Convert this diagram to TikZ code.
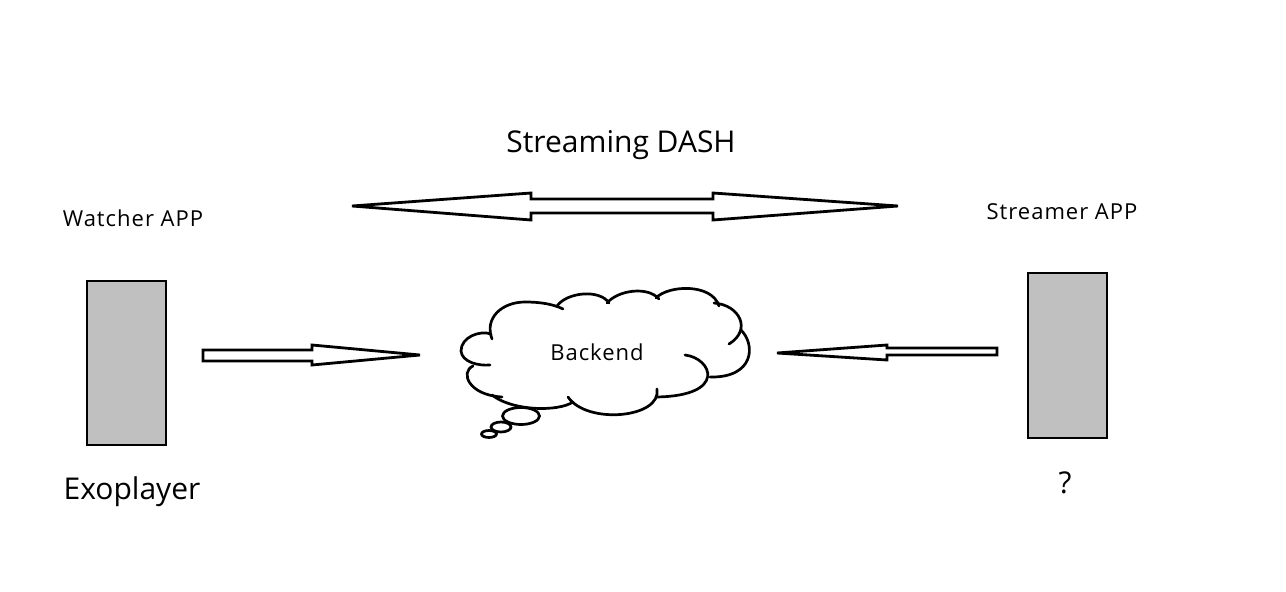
\documentclass[tikz,border=0pt]{standalone}
\usepackage{fontspec}
\setmainfont{Open Sans}
\begin{document}
\begin{tikzpicture}[x=1pt,y=-1pt,
  outl/.style={draw=black,line width=2.8pt,line join=miter},
  appbox/.style={draw=black,line width=2pt,fill=boxgray},
  bump/.style={draw=black,line width=2.7pt,line cap=round},
  bigtxt/.style={font=\fontsize{30}{34}\selectfont,inner sep=0pt,anchor=base},
  midtxt/.style={font=\fontsize{22}{26}\selectfont\addfontfeature{LetterSpace=4.5},inner sep=0pt,anchor=base}]
\definecolor{boxgray}{HTML}{C0C0C0}
\path[use as bounding box,fill=white] (0,0) rectangle (1286,592);

% labels
\node[bigtxt] (dash) at (621,152) {Streaming DASH};
\node[midtxt] (watcher) at (133,226) {Watcher APP};
\node[midtxt] (streamer) at (1062,219) {Streamer APP};
\node[bigtxt] (exo) at (132,499) {Exoplayer};
\node[bigtxt] (q) at (1065,493) {?};

% app boxes
\draw[appbox] (87,281) rectangle (166,445) coordinate (watchbox);
\draw[appbox] (1028,273) rectangle (1107,438) coordinate (streambox);

% top double arrow
\draw[outl,fill=white] (352,206) -- (531,193) -- (531,199) -- (713,199) -- (713,193)
  -- (898,206) -- (713,220) -- (713,213) -- (531,213) -- (531,220) -- cycle;

% watcher -> backend
\draw[outl,fill=white] (203,350) -- (312,350) -- (312,345) -- (420,355) -- (312,365)
  -- (312,361) -- (203,361) -- cycle;

% streamer -> backend
\draw[outl,fill=white] (997,348) -- (887,348) -- (887,345) -- (777,353) -- (887,360)
  -- (887,355) -- (997,355) -- cycle;

% cloud
\fill[white] (492,334) .. controls (482,305) and (545,290) .. (560,307)
  .. controls (570,292) and (600,290) .. (608,303)
  .. controls (620,288) and (648,286) .. (658,298)
  .. controls (670,285) and (712,283) .. (718,305)
  .. controls (745,310) and (752,330) .. (742,333)
  .. controls (758,345) and (752,378) .. (711,377)
  .. controls (712,392) and (680,402) .. (657,395)
  .. controls (650,420) and (585,422) .. (569,399)
  .. controls (555,412) and (510,410) .. (496,396)
  .. controls (465,393) and (462,370) .. (474,366)
  .. controls (455,355) and (465,332) .. (492,334) -- cycle;
\draw[bump] (490,365) .. controls (478,366) and (462,362) .. (461,351)
  .. controls (461,337) and (480,330) .. (491,334);
\draw[bump] (492,339) .. controls (484,318) and (502,302) .. (525,302)
  .. controls (540,302) and (553,304) .. (563,309);
\draw[bump] (557,306) .. controls (567,292) and (600,289) .. (609,303);
\draw[bump] (607,303) .. controls (618,290) and (648,286) .. (659,299);
\draw[bump] (656,298) .. controls (668,285) and (712,283) .. (719,306);
\draw[bump] (714,303) .. controls (740,305) and (752,330) .. (729,344);
\draw[bump] (741,330) .. controls (756,345) and (754,378) .. (710,377);
\draw[bump] (685,355) .. controls (712,358) and (728,396) .. (656,397);
\draw[bump] (657,389) .. controls (662,418) and (587,425) .. (568,397);
\draw[bump] (573,402) .. controls (558,412) and (512,411) .. (492,395);
\draw[bump] (502,397) .. controls (468,395) and (460,372) .. (473,366);
\node[midtxt] (backend) at (597,360) {Backend};

% thought bubbles
\draw[bump,fill=white] (521,416) ellipse [x radius=18.5,y radius=8.5];
\draw[bump,fill=white] (501,427) ellipse [x radius=10,y radius=5];
\draw[bump,fill=white] (489,434) ellipse [x radius=7.5,y radius=3.5];
\end{tikzpicture}
\end{document}
